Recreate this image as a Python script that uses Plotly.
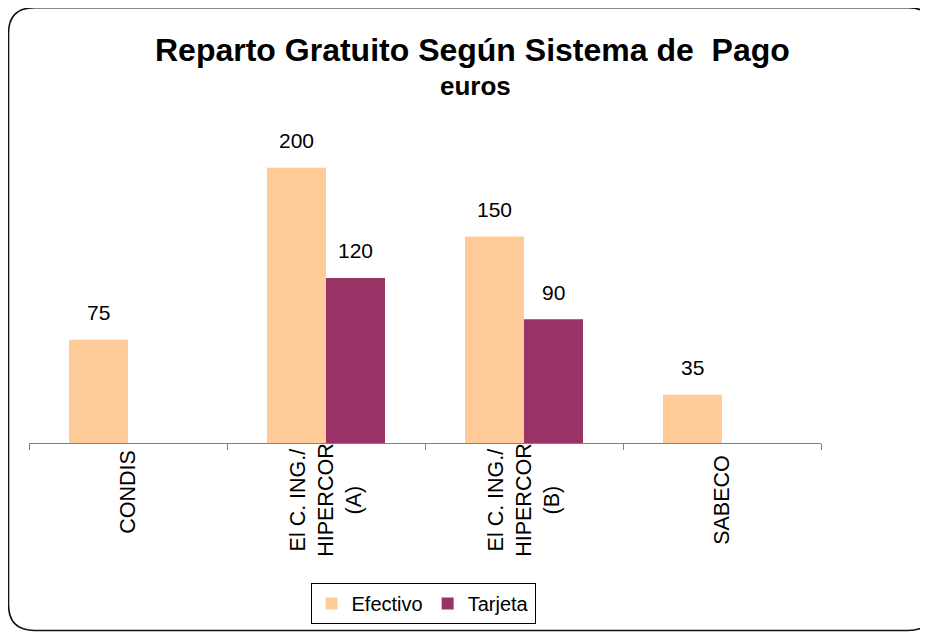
import plotly.graph_objects as go

categories = ["CONDIS", "El C. ING./<br>HIPERCOR<br>(A)", "El C. ING./<br>HIPERCOR<br>(B)", "SABECO"]
efectivo = [75, 200, 150, 35]
tarjeta = [None, 120, 90, None]
series_names = ["Efectivo", "Tarjeta"]
colors = ["#FFCC99", "#993366"]

# screen y (px) of each category label's centre
label_centres = [493, 502, 502, 501]

OFF = 8  # page body margin
W, H = 928 - OFF, 634 - OFF
# plot area in screen pixels: x 29..821, y 99..444
SX0, SX1, SY0, SY1 = 29, 821, 99, 444
L, T = SX0 - OFF, SY0 - OFF
R, B = W - (SX1 - OFF), H - (SY1 - OFF)
pw, ph = SX1 - SX0, SY1 - SY0

def px2paper(x, y):
    # screen pixel -> paper coords
    return (x - SX0) / pw, (SY1 - y) / ph

font = "Liberation Sans, Arial, sans-serif"

fig = go.Figure()
for name, vals, col in zip(series_names, [efectivo, tarjeta], colors):
    fig.add_trace(go.Bar(x=categories, y=vals, name=name, marker_color=col,
                         marker_line_width=0))

ann = []
for vals, shift in [(efectivo, -29.5), (tarjeta, 29.5)]:
    for c, v in zip(categories, vals):
        if v is None:
            continue
        ann.append(dict(x=c, y=v, xref="x", yref="y", text=str(v), showarrow=False,
                        xshift=shift, yshift=27, yanchor="middle",
                        font=dict(size=21, color="#000", family=font)))
for c, yc in zip(categories, label_centres):
    ann.append(dict(x=c, y=px2paper(0, yc)[1],
                    xref="x", yref="paper", text=c, showarrow=False, textangle=-90,
                    align="center", xanchor="center", yanchor="middle",
                    font=dict(size=21.5, color="#000", family=font)))
ann.append(dict(x=px2paper(473, 0)[0], y=px2paper(0, 50)[1], xref="paper", yref="paper",
                text="<b>Reparto Gratuito Según Sistema de  Pago</b>", showarrow=False,
                xanchor="center", yanchor="middle",
                font=dict(size=32, color="#000", family=font)))
ann.append(dict(x=px2paper(475, 0)[0], y=px2paper(0, 86)[1], xref="paper", yref="paper",
                text="<b>euros</b>", showarrow=False, xanchor="center", yanchor="middle",
                font=dict(size=26, color="#000", family=font)))

# rounded border (screen pixels)
bl, bt, br, bb, r = 8.5, 7.5, 934, 632, 26
def P(x, y):
    a, b = px2paper(x, y)
    return f"{a:.5f},{b:.5f}"
path = (f"M {P(bl + r, bt)} L {P(br - r, bt)} Q {P(br, bt)} {P(br, bt + r)} "
        f"L {P(br, bb - r)} Q {P(br, bb)} {P(br - r, bb)} "
        f"L {P(bl + r, bb)} Q {P(bl, bb)} {P(bl, bb - r)} "
        f"L {P(bl, bt + r)} Q {P(bl, bt)} {P(bl + r, bt)} Z")

fig.update_layout(
    width=W, height=H,
    margin=dict(l=L, r=R, t=T, b=B),
    paper_bgcolor="white", plot_bgcolor="white",
    barmode="group", bargap=0.404, bargroupgap=0,
    annotations=ann,
    shapes=[dict(type="path", path=path, xref="paper", yref="paper",
                 line=dict(color="#111", width=1.6))],
    xaxis=dict(showticklabels=False, showline=True, linecolor="#808080", linewidth=1,
               ticks="outside", tickson="boundaries", ticklen=6, tickcolor="#808080",
               showgrid=False, zeroline=False),
    yaxis=dict(range=[0, 250], visible=False, showgrid=False, zeroline=False),
    showlegend=True,
    legend=dict(orientation="h", x=px2paper(423, 0)[0], xanchor="center",
                y=px2paper(0, 583)[1], yanchor="top",
                bordercolor="#000", borderwidth=1, bgcolor="white",
                font=dict(size=20, color="#000", family=font),
                itemwidth=30, tracegroupgap=0),
    font=dict(family=font, color="#000"),
)

fig.write_html("out.html")
